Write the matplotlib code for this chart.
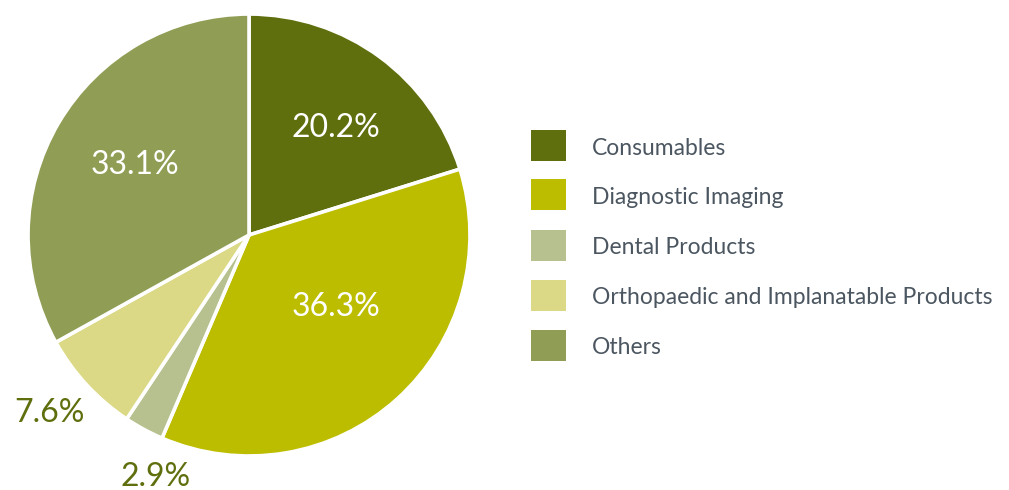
import matplotlib.pyplot as plt
from matplotlib import patches
from matplotlib import rcParams

# data
categories = ["Consumables", "Diagnostic Imaging", "Dental Products",
              "Orthopaedic and Implanatable Products", "Others"]
shares = [20.2, 36.3, 2.9, 7.6, 33.1]
colors = ["#5f6f0e", "#bdbd00", "#b6c18f", "#dbd985", "#909e55"]
pct_labels = ["20.2%", "36.3%", "2.9%", "7.6%", "33.1%"]

rcParams['font.family'] = ['Lato', 'DejaVu Sans']

label_color = "#5f6f0e"
legend_text_color = "#4b5660"

fig = plt.figure(figsize=(10.09, 4.9), dpi=100)
ax = fig.add_axes([0.0278, 0.0694, 0.438, 0.902])

wedges, _ = ax.pie(shares, colors=colors, startangle=90, counterclock=False,
                   radius=1.0, wedgeprops=dict(edgecolor='white', linewidth=2.6))
ax.set_xlim(-1, 1)
ax.set_ylim(-1, 1)
ax.set_aspect('equal')
ax.axis('off')

# percentage labels (inside: white, small slices outside: olive)
label_pos = [(0.394, 0.484), (0.394, -0.326), (-0.421, -1.095),
             (-0.905, -0.805), (-0.516, 0.317)]
inside = [True, True, False, False, True]
for (x, y), txt, ins in zip(label_pos, pct_labels, inside):
  ax.text(x, y, txt, ha='center', va='center', fontsize=23,
          color='white' if ins else label_color, clip_on=False)

# legend drawn by hand
W, H = 1009.0, 490.0
for i, (cat, col) in enumerate(zip(categories, colors)):
  yc = 145 + 50 * i
  rect = patches.Rectangle((531 / W, 1 - (yc + 15.5) / H), 35 / W, 31 / H,
                           transform=fig.transFigure, facecolor=col,
                           edgecolor='none')
  fig.add_artist(rect)
  fig.text(592 / W, 1 - (yc + 3) / H, cat, ha='left', va='center',
           fontsize=16.5, color=legend_text_color)

fig.savefig('out.png', dpi=100)
